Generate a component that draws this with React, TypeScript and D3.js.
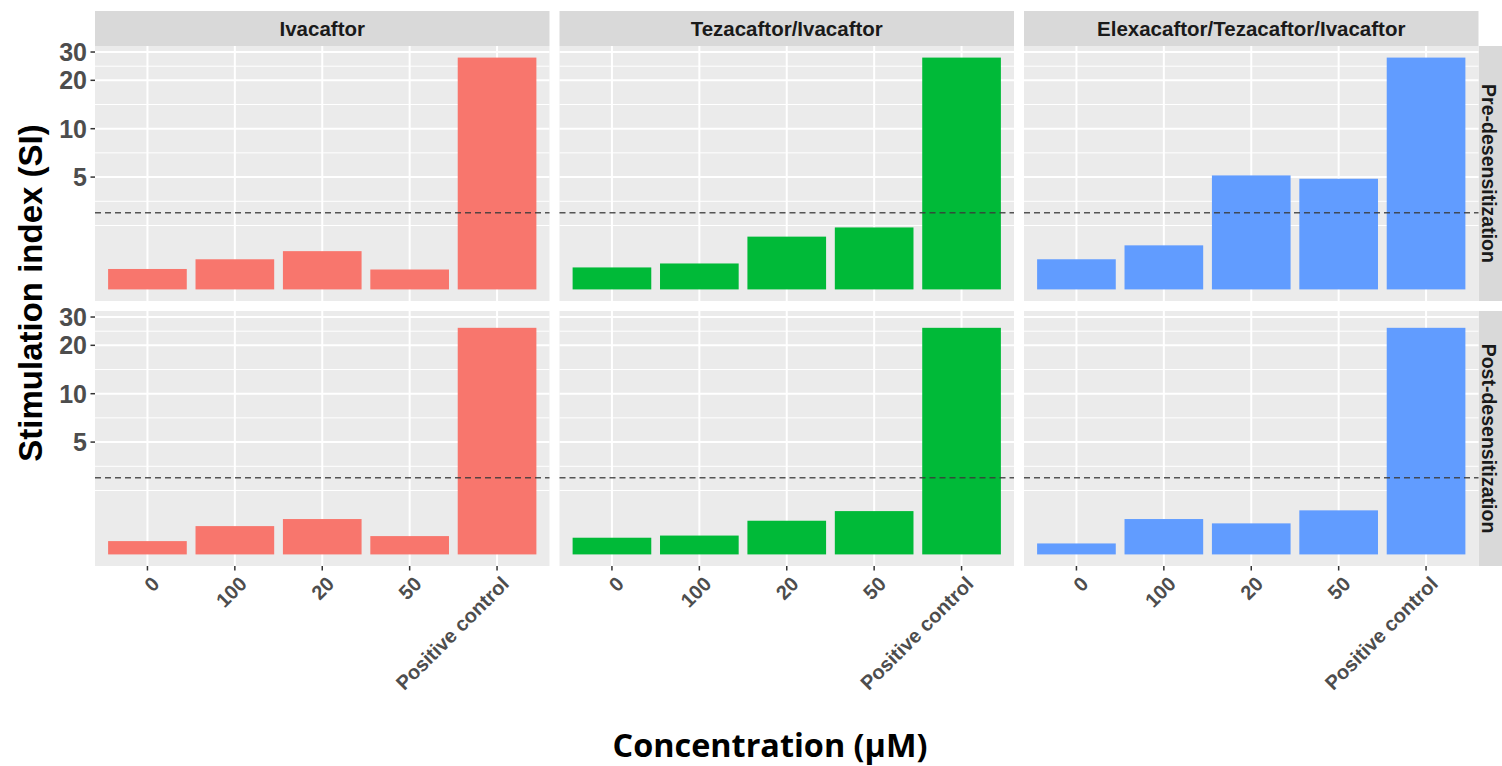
import React from "react";
import * as d3 from "d3";

const drugs = ["Ivacaftor", "Tezacaftor/Ivacaftor", "Elexacaftor/Tezacaftor/Ivacaftor"];
const phases = ["Pre-desensitization", "Post-desensitization"];
const concentrations = ["0", "100", "20", "50", "Positive control"];

const preIvacaftor = [1.34, 1.54, 1.73, 1.33, 27.7];
const preTezaIva = [1.37, 1.45, 2.13, 2.43, 27.7];
const preElexaTezaIva = [1.54, 1.88, 5.12, 4.88, 27.7];
const postIvacaftor = [1.21, 1.5, 1.66, 1.3, 25.7];
const postTezaIva = [1.27, 1.31, 1.62, 1.86, 25.7];
const postElexaTezaIva = [1.17, 1.66, 1.56, 1.88, 25.7];

const drugColors = ["#F8766D", "#00BA38", "#619CFF"];
const yTicks = [5, 10, 20, 30];
const threshold = 3;

const values: number[][][] = [
  [preIvacaftor, preTezaIva, preElexaTezaIva],
  [postIvacaftor, postTezaIva, postElexaTezaIva],
];

const W = 1502;
const H = 766;
const panelLefts = [95, 559.5, 1024];
const panelW = 454.5;
const stripTop = 11;
const stripH = 35;
const rowTops = [46, 311];
const panelH = 255;
const FONT = "'Liberation Sans', Arial, sans-serif";

export default function App() {
  const maxVal = d3.max(values.flat(2)) as number;
  const lo = 0;
  const hi = Math.log10(maxVal);
  const pad = (hi - lo) * 0.05;
  const domain = [Math.pow(10, lo - pad), Math.pow(10, hi + pad)];

  // ggplot-style minor breaks (midpoints in log space, extended one step below)
  const logMaj = yTicks.map((v) => Math.log10(v));
  const step0 = logMaj[1] - logMaj[0];
  const ext = [logMaj[0] - step0, ...logMaj];
  const minor: number[] = [];
  for (let i = 0; i < ext.length - 1; i++) minor.push(Math.pow(10, (ext[i] + ext[i + 1]) / 2));
  minor.push(Math.pow(10, ext[0]));

  return (
    <svg
      width={W}
      height={H}
      style={{ position: "absolute", left: 0, top: 0, background: "#fff" }}
      fontFamily={FONT}
    >
      {/* top strips */}
      {drugs.map((d, c) => (
        <g key={"strip" + c}>
          <rect x={panelLefts[c]} y={stripTop} width={panelW} height={stripH} fill="#D9D9D9" />
          <text
            x={panelLefts[c] + panelW / 2}
            y={stripTop + stripH / 2}
            dy="0.36em"
            textAnchor="middle"
            fontSize={20.5}
            fontWeight="bold"
            fill="#1A1A1A"
          >
            {d}
          </text>
        </g>
      ))}
      {phases.map((p, r) => {
        const top = rowTops[r];
        const y = d3.scaleLog().domain(domain).range([top + panelH, top]);
        const sx = panelLefts[2] + panelW;
        return (
          <g key={"row" + r}>
            {/* right strip */}
            <rect x={sx} y={top} width={stripH} height={panelH} fill="#D9D9D9" />
            <text
              transform={`translate(${sx + 11},${top + panelH / 2}) rotate(90)`}
              dy="0.36em"
              textAnchor="middle"
              fontSize={19.5}
              fontWeight="bold"
              fill="#1A1A1A"
            >
              {p}
            </text>
            {/* y axis */}
            {yTicks.map((t) => (
              <g key={"yt" + t}>
                <line x1={panelLefts[0] - 4.5} x2={panelLefts[0]} y1={y(t)} y2={y(t)} stroke="#333" strokeWidth={1.5} />
                <text
                  x={panelLefts[0] - 8}
                  y={y(t)}
                  dy="0.36em"
                  textAnchor="end"
                  fontSize={25}
                  fontWeight="bold"
                  fill="#4D4D4D"
                >
                  {t}
                </text>
              </g>
            ))}
            {drugs.map((d, c) => {
              const left = panelLefts[c];
              const x = d3.scalePoint<string>().domain(concentrations).range([left, left + panelW]).padding(0.6);
              const bw = x.step() * 0.9;
              const vals = values[r][c];
              return (
                <g key={"p" + r + c}>
                  <rect x={left} y={top} width={panelW} height={panelH} fill="#EBEBEB" />
                  {minor.map((m, i) => {
                    const yy = y(m);
                    if (yy < top || yy > top + panelH) return null;
                    return <line key={"mn" + i} x1={left} x2={left + panelW} y1={yy} y2={yy} stroke="#fff" strokeWidth={1} />;
                  })}
                  {yTicks.map((t) => (
                    <line key={"mj" + t} x1={left} x2={left + panelW} y1={y(t)} y2={y(t)} stroke="#fff" strokeWidth={2} />
                  ))}
                  {concentrations.map((cc) => (
                    <line key={"vx" + cc} x1={x(cc)!} x2={x(cc)!} y1={top} y2={top + panelH} stroke="#fff" strokeWidth={2} />
                  ))}
                  {concentrations.map((cc, i) => (
                    <rect
                      key={"b" + cc}
                      x={x(cc)! - bw / 2}
                      y={y(vals[i])}
                      width={bw}
                      height={y(1) - y(vals[i])}
                      fill={drugColors[c]}
                    />
                  ))}
                  <line
                    x1={left}
                    x2={left + panelW}
                    y1={y(threshold)}
                    y2={y(threshold)}
                    stroke="#3a3a3a"
                    strokeOpacity={0.85}
                    strokeWidth={1.6}
                    strokeDasharray="6 4"
                  />
                  {r === 1 &&
                    concentrations.map((cc) => (
                      <g key={"xt" + cc}>
                        <line x1={x(cc)!} x2={x(cc)!} y1={top + panelH} y2={top + panelH + 4.5} stroke="#333" strokeWidth={1.5} />
                        <text
                          transform={`translate(${x(cc)! + 3},${top + panelH + 9}) rotate(-45)`}
                          dy="0.72em"
                          textAnchor="end"
                          fontSize={20}
                          fontWeight="bold"
                          fill="#4D4D4D"
                        >
                          {cc}
                        </text>
                      </g>
                    ))}
                </g>
              );
            })}
          </g>
        );
      })}
      {/* axis titles */}
      <text
        transform={`translate(42,293) rotate(-90)`}
        textAnchor="middle"
        fontSize={33}
        fontWeight="bold"
        fill="#000"
      >
        Stimulation index (SI)
      </text>
      <text
        x={770}
        y={757}
        textAnchor="middle"
        fontSize={32}
        fontWeight="bold"
        fill="#000"
        fontFamily="'Open Sans', sans-serif"
        textLength={315}
        lengthAdjust="spacingAndGlyphs"
      >
        Concentration (µM)
      </text>
    </svg>
  );
}
